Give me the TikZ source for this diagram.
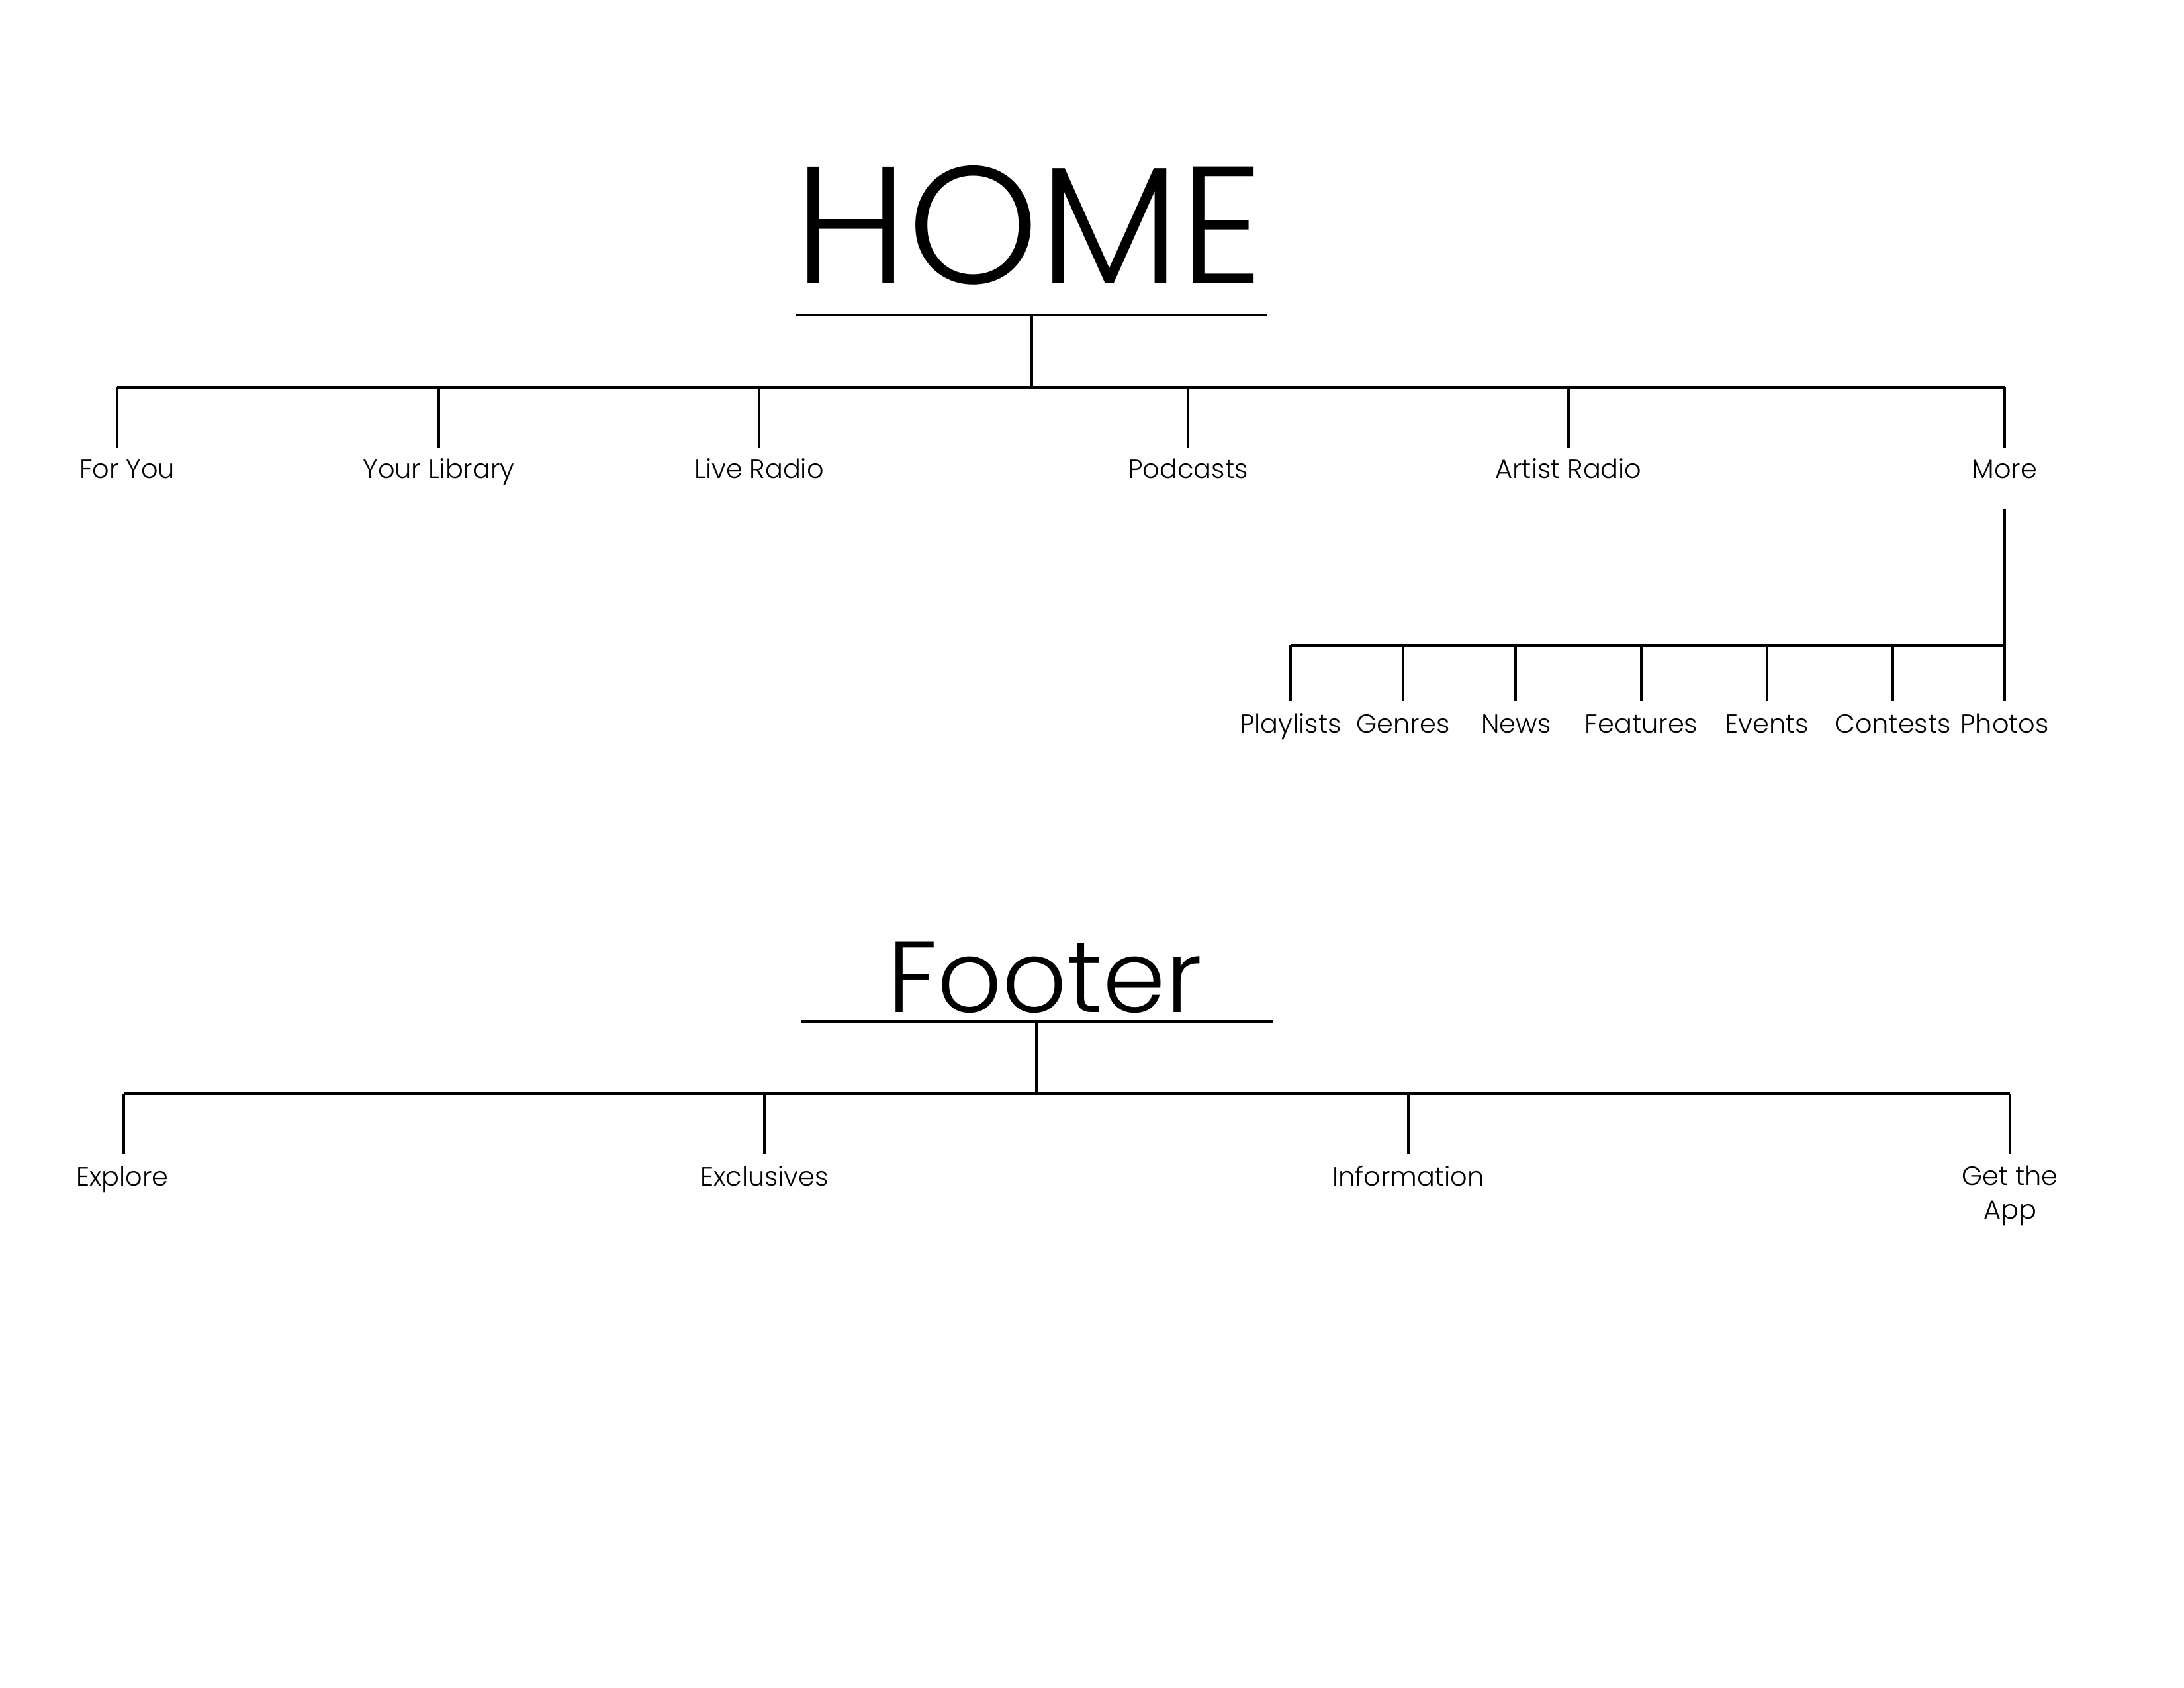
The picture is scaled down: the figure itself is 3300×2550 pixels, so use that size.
\documentclass[tikz,border=0pt]{standalone}
\usepackage{fontspec}
\setmainfont{Poppins Light}
\begin{document}
\begin{tikzpicture}[x=0.2409pt,y=-0.2409pt,
  bar/.style={line width=0.95pt},
  stem/.style={line width=0.8pt},
  lab/.style={anchor=base,inner sep=0pt,font=\fontsize{9.6}{12.3}\selectfont,align=center},
  title/.style={anchor=base,inner sep=0pt}]
\useasboundingbox (0,0) rectangle (3300,2550);
% ---------- HOME ----------
\node[title,font=\fontsize{60.7}{70}\selectfont] (home) at (1555,429) {HOME};
\coordinate (hl) at (1202,476);
\coordinate (hr) at (1915,476);
\coordinate (hs) at (1559,476);
\coordinate (hj) at (1559,585);
\draw[bar] (hl) -- (hr);
\draw[stem] (hs) -- (hj);
\coordinate (m1) at (177,585);
\coordinate (m2) at (663,585);
\coordinate (m3) at (1147,585);
\coordinate (m4) at (1795,585);
\coordinate (m5) at (2370,585);
\coordinate (m6) at (3029,585);
\draw[bar] (m1) -- (m6);
\node[lab] (foryou) at (192,723) {For You};
\node[lab] (library) at (663,723) {Your Library};
\node[lab] (live) at (1147,723) {Live Radio};
\node[lab] (pod) at (1795,723) {Podcasts};
\node[lab] (artist) at (2370,723) {Artist Radio};
\node[lab] (more) at (3029,723) {More};
\foreach \i/\x in {1/177,2/663,3/1147,4/1795,5/2370,6/3029}{
  \coordinate (e\i) at (\x,677);
  \draw[stem] (m\i) -- (e\i);
}
% ---------- More subtree ----------
\coordinate (mt) at (3029,769);
\coordinate (mb) at (3029,975);
\draw[stem] (mt) -- (mb);
\coordinate (s1) at (1950,975);
\draw[bar] (s1) -- (mb);
\node[lab] (playlists) at (1950,1108) {Playlists};
\node[lab] (genres) at (2120,1108) {Genres};
\node[lab] (news) at (2291,1108) {News};
\node[lab] (features) at (2480,1108) {Features};
\node[lab] (events) at (2670,1108) {Events};
\node[lab] (contests) at (2860,1108) {Contests};
\node[lab] (photos) at (3029,1108) {Photos};
\foreach \i/\x in {1/1950,2/2120,3/2290,4/2480,5/2670,6/2860,7/3029}{
  \coordinate (st\i) at (\x,975);
  \coordinate (sb\i) at (\x,1059);
  \draw[stem] (st\i) -- (sb\i);
}
% ---------- Footer ----------
\node[title,font=\fontsize{36.7}{44}\selectfont] (footer) at (1579,1530) {Footer};
\coordinate (fl) at (1210,1543);
\coordinate (fr) at (1923,1543);
\coordinate (fs) at (1566,1543);
\coordinate (fj) at (1566,1652);
\draw[bar] (fl) -- (fr);
\draw[stem] (fs) -- (fj);
\coordinate (f1) at (187,1652);
\coordinate (f2) at (1155,1652);
\coordinate (f3) at (2128,1652);
\coordinate (f4) at (3037,1652);
\draw[bar] (f1) -- (f4);
\foreach \i/\x in {1/187,2/1155,3/2128,4/3037}{
  \coordinate (fe\i) at (\x,1743);
  \draw[stem] (f\i) -- (fe\i);
}
\node[lab] (explore) at (185,1791) {Explore};
\node[lab] (excl) at (1155,1791) {Exclusives};
\node[lab] (info) at (2128,1791) {Information};
\node[lab] (app) at (3037,1842) {Get the\\App};
\end{tikzpicture}
\end{document}
